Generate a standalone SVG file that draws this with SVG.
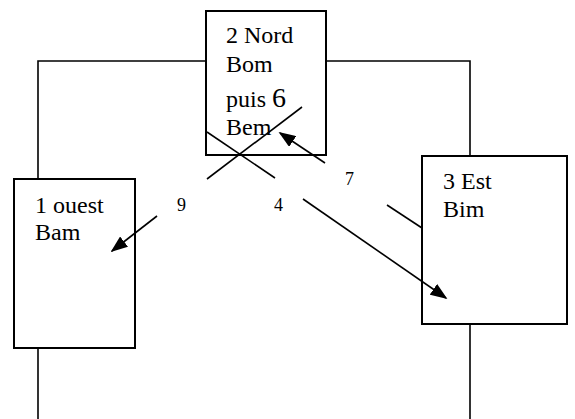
<svg xmlns="http://www.w3.org/2000/svg" width="575" height="419" viewBox="0 0 575 419">
<defs>
<style>
.box{fill:#fff;stroke:#000;stroke-width:2}
.ln{fill:none;stroke:#000;stroke-width:1.6}
text{font-family:'Liberation Serif','Times New Roman',Times,serif;fill:#000}
.t{font-size:24px}
.lbl{font-size:18px}
</style>
<marker id="ah" viewBox="0 0 10 10" refX="9" refY="5" markerWidth="17" markerHeight="13" markerUnits="userSpaceOnUse" orient="auto" preserveAspectRatio="none">
<path d="M0,0 L10,5 L0,10 z" fill="#000"/>
</marker>
</defs>
<rect width="575" height="419" fill="#fff"/>
<g id="connectors">
<polyline class="ln" points="38,179 38,61 206,61"/>
<polyline class="ln" points="326,61 470,61 470,156"/>
<line class="ln" x1="38" y1="348" x2="38" y2="419"/>
<line class="ln" x1="470" y1="324" x2="470" y2="419"/>
</g>
<g id="node-nord">
<rect class="box" x="206" y="11" width="120" height="144"/>
<text class="t" x="226" y="43" font-family="Liberation Serif, serif">2 Nord</text>
<text class="t" x="226" y="72" font-family="Liberation Serif, serif">Bom</text>
<text class="t" x="226" y="107" font-family="Liberation Serif, serif">puis <tspan font-size="28">6</tspan></text>
<text class="t" x="226" y="135" font-family="Liberation Serif, serif">Bem</text>
</g>
<g id="node-ouest">
<rect class="box" x="14" y="179" width="121" height="169"/>
<text class="t" x="35" y="213" font-family="Liberation Serif, serif">1 ouest</text>
<text class="t" x="35" y="240" font-family="Liberation Serif, serif">Bam</text>
</g>
<g id="node-est">
<rect class="box" x="422" y="156" width="145" height="168"/>
<text class="t" x="443" y="189" font-family="Liberation Serif, serif">3 Est</text>
<text class="t" x="443" y="217" font-family="Liberation Serif, serif">Bim</text>
</g>
<g id="arrows">
<line class="ln" x1="207" y1="132" x2="275" y2="178"/>
<line class="ln" x1="207" y1="179" x2="302" y2="107"/>
<line class="ln" x1="325" y1="163" x2="280" y2="133" marker-end="url(#ah)"/>
<line class="ln" x1="387" y1="205" x2="422" y2="228"/>
<line class="ln" x1="303" y1="199" x2="446" y2="298" marker-end="url(#ah)"/>
<line class="ln" x1="157" y1="216" x2="112" y2="251" marker-end="url(#ah)"/>
<text class="lbl" x="177" y="211" font-family="Liberation Serif, serif">9</text>
<text class="lbl" x="274" y="211" font-family="Liberation Serif, serif">4</text>
<text class="lbl" x="345" y="185" font-family="Liberation Serif, serif">7</text>
</g>
</svg>
